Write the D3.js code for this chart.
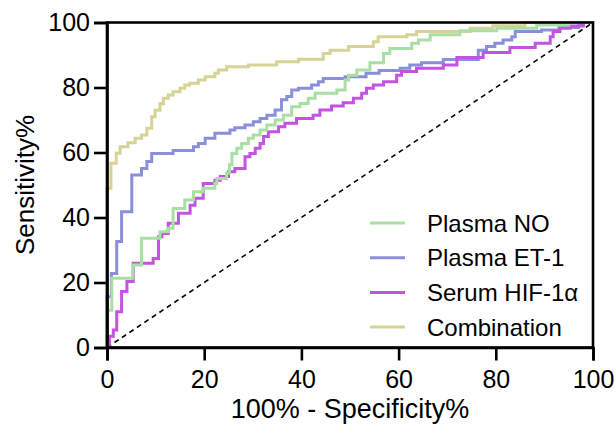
<!DOCTYPE html>
<html>
<head>
<meta charset="utf-8">
<script src="https://cdn.jsdelivr.net/npm/d3@7"></script>
<style>
  body { margin: 0; background: #fff; }
  text { font-family: "Liberation Sans", Arial, sans-serif; fill: #000; }
</style>
</head>
<body>
<div class="canvas"></div>
<script>
const WIDTH = 615;
const HEIGHT = 424;
const margin = { top: 22.5, right: 22, bottom: 76.5, left: 107 };

// ROC curves as staircase corners: [100% - specificity, sensitivity]
const seriesNames = ['Plasma NO', 'Plasma ET-1', 'Serum HIF-1\u03b1', 'Combination'];
const seriesColors = ['#a9dfa5', '#8b8fd9', '#c353e0', '#d6d394'];

const plasmaNO = [
    [0, 0], [0, 11.5], [1, 21.3], [5.3, 25.4], [7.1, 33.6], [10.9, 35.6], [12.6, 36.7],
    [13.6, 42.8], [16, 45.4], [17.8, 47.9], [19.8, 49], [22.2, 50.5], [22.6, 52],
    [24.6, 53.6], [25.2, 56.2], [25.7, 59.7], [26.7, 61.3], [27.7, 62.8], [29.1, 64.4],
    [30.1, 65.4], [31.5, 66.9], [32.9, 68.5], [34.6, 70], [36.3, 71.5], [38, 74.1],
    [39.7, 75.1], [41.4, 76.7], [42.8, 78.2], [47.3, 79.2], [49, 82.3], [49.7, 83.8],
    [51.4, 85.4], [54.1, 87.6], [56.9, 90.5], [58.2, 92], [62.7, 93.6], [64.1, 94.6],
    [66.5, 96.2], [72.6, 97.5], [80.2, 98.2], [88.4, 99.2], [95, 100], [100, 100]
];
const plasmaET1 = [
    [0, 0], [0, 15.6], [0.9, 22.8], [2, 32.6], [3, 41.8], [5.1, 53.1], [7.1, 55.1],
    [8.2, 57.2], [9.2, 59.7], [13.6, 60.6], [17.8, 61.8], [18.8, 62.8], [20.2, 64.4],
    [22.2, 65.9], [25.3, 66.9], [26.3, 67.6], [28.4, 68.5], [30.1, 69.5], [31.5, 70.5],
    [32.9, 71.5], [34.6, 73.1], [35.9, 76.2], [37, 77.2], [38, 79.2], [39.4, 79.8],
    [42.1, 80.8], [43.5, 81.8], [44.5, 82.8], [49, 83.3], [53.3, 84.4], [56, 85.2],
    [60.3, 85.9], [62.3, 86.9], [64.7, 87.6], [69.2, 88.6], [76.4, 91.5], [78.1, 92.6],
    [79.8, 93.6], [81.5, 94.6], [83.3, 95.6], [84, 97.2], [89.4, 97.7], [93, 98.5],
    [97, 99.3], [98, 100], [100, 100]
];
const serumHIF = [
    [0, 0], [0.5, 3.5], [1.3, 5.4], [2, 11], [3, 17.2], [4.1, 20.3], [5.4, 25.9],
    [9.5, 27.4], [10.6, 34.1], [11.3, 35.1], [12.6, 38.2], [14.7, 41.3], [17.1, 43.8],
    [18.1, 45.9], [19.8, 50.5], [22.2, 51.5], [23.3, 52.6], [25, 54.1], [26.3, 55.1],
    [28.4, 58.7], [29.4, 59.7], [30.5, 61.3], [31.5, 62.8], [32.2, 64.9], [33.2, 66.4],
    [35.3, 67.9], [36.6, 69], [39, 70.5], [42.4, 71.5], [43.8, 73.1], [46.2, 74.3],
    [48.6, 75.3], [50.7, 76.7], [52.4, 78.2], [53.4, 79.8], [54.8, 80.8], [56.9, 81.8],
    [59.6, 83.8], [60.6, 84.9], [63.7, 85.9], [69.2, 86.9], [72, 89.2], [77.4, 90.8],
    [82.9, 92.3], [88.1, 93.6], [91.2, 95.6], [91.8, 97.2], [93.2, 98.2], [95.3, 98.9],
    [98, 100], [100, 100]
];
const combination = [
    [0, 0], [0, 49], [0.8, 56.7], [1.9, 59.8], [2.7, 61.8], [4.3, 63], [5.8, 64.4],
    [7.1, 65.4], [8.2, 67.5], [9.2, 71], [9.9, 73], [10.9, 75], [11.6, 76.7],
    [12.6, 77.7], [13.6, 78.7], [15, 79.8], [16, 80.8], [17, 81.3], [18.8, 82.3],
    [20.2, 83.3], [22.2, 84.4], [22.9, 85.4], [24.6, 86.4], [29.1, 86.9], [34.9, 87.9],
    [39.4, 88.7], [44.5, 90.5], [45.9, 91.5], [49.7, 92.6], [54.8, 94.1], [55.8, 95.6],
    [61.7, 96.2], [63.7, 97.2], [74.7, 98.2], [79.4, 99], [86, 100], [100, 100]
];
const seriesData = [plasmaNO, plasmaET1, serumHIF, combination];

const xTicks = [0, 20, 40, 60, 80, 100];
const yTicks = [0, 20, 40, 60, 80, 100];

const innerW = WIDTH - margin.left - margin.right;
const innerH = HEIGHT - margin.top - margin.bottom;

const svg = d3.select('.canvas')
    .append('svg')
    .attr('width', WIDTH)
    .attr('height', HEIGHT);

const x = d3.scaleLinear().domain([0, 100]).range([0, innerW]);
const y = d3.scaleLinear().domain([0, 100]).range([innerH, 0]);

const chart = svg.append('g')
    .attr('transform', `translate(${margin.left}, ${margin.top})`);

// reference diagonal
chart.append('line')
    .attr('x1', x(0)).attr('y1', y(0))
    .attr('x2', x(100)).attr('y2', y(100))
    .attr('stroke', '#000')
    .attr('stroke-width', 1.6)
    .attr('stroke-dasharray', '5,4');

const line = d3.line()
    .x(d => x(d[0]))
    .y(d => y(d[1]))
    .curve(d3.curveStepAfter);

// draw combination first, NO on top
[3, 1, 2, 0].forEach(i => {
    chart.append('path')
        .datum(seriesData[i])
        .attr('fill', 'none')
        .attr('stroke', seriesColors[i])
        .attr('stroke-width', 3)
        .attr('d', line);
});

// frame
chart.append('rect')
    .attr('x', 0).attr('y', 0)
    .attr('width', innerW).attr('height', innerH)
    .attr('fill', 'none')
    .attr('stroke', '#000')
    .attr('stroke-width', 2.6);

const xAxis = chart.append('g')
    .attr('transform', `translate(0, ${innerH})`)
    .call(d3.axisBottom(x).tickValues(xTicks).tickSize(13).tickPadding(10));

const yAxis = chart.append('g')
    .call(d3.axisLeft(y).tickValues(yTicks).tickSize(13).tickPadding(4));

[xAxis, yAxis].forEach(ax => {
    ax.select('.domain').attr('stroke-width', 2.6);
    ax.selectAll('.tick line').attr('stroke-width', 2.6);
    ax.selectAll('.tick text')
        .attr('font-family', '"Liberation Sans", Arial, sans-serif')
        .attr('font-size', 25)
        .attr('fill', '#000');
});

svg.append('text')
    .attr('x', margin.left + innerW / 2)
    .attr('y', 418)
    .attr('text-anchor', 'middle')
    .attr('font-size', 27)
    .text('100% - Specificity%');

svg.append('text')
    .attr('transform', `translate(34, ${margin.top + innerH / 2}) rotate(-90)`)
    .attr('text-anchor', 'middle')
    .attr('font-size', 26)
    .text('Sensitivity%');

// legend
const legend = svg.append('g')
    .attr('transform', 'translate(370, 223)');

seriesNames.forEach((name, i) => {
    const row = legend.append('g')
        .attr('transform', `translate(0, ${i * 34.7})`);
    row.append('line')
        .attr('x1', 0).attr('x2', 35)
        .attr('y1', 0).attr('y2', 0)
        .attr('stroke', seriesColors[i])
        .attr('stroke-width', 3);
    row.append('text')
        .attr('x', 57)
        .attr('y', 8.5)
        .attr('font-size', 24)
        .text(name);
});
</script>
</body>
</html>
